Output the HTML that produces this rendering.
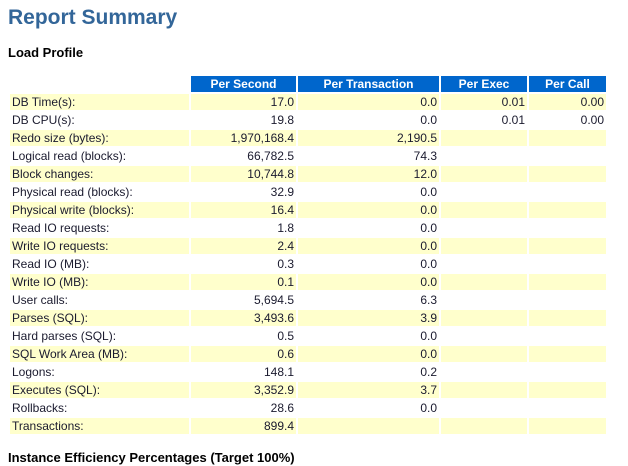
<!DOCTYPE html>
<html><head><meta charset="utf-8"><style>
body{margin:0;width:628px;height:466px;background:#fff;font-family:"Liberation Sans",Arial,sans-serif;position:relative;overflow:hidden}
.t{position:absolute;left:8px;top:6px;font-size:21px;font-weight:bold;color:#336699}
.h{position:absolute;left:8px;font-size:13px;font-weight:bold;color:#000}
table{position:absolute;left:8px;top:74px;width:600px;table-layout:fixed;border-collapse:separate;border-spacing:2px;font-size:12px;color:#1a1a2e}
td,th{height:16px;line-height:16px;padding:0 2px;white-space:nowrap;overflow:hidden}
th{background:#0066cc;color:#fff;font-weight:bold;text-align:center}
td{text-align:right}
td:first-child{text-align:left}
tr.y td{background:#ffffcc}
</style></head><body>
<div class="t">Report Summary</div>
<div class="h" style="top:45px">Load Profile</div>
<table>
<colgroup><col style="width:179px"><col style="width:105px"><col style="width:141px"><col style="width:86px"><col style="width:77px"></colgroup>
<tr><td style="background:none"></td><th>Per Second</th><th>Per Transaction</th><th>Per Exec</th><th>Per Call</th></tr>
<tr class="y"><td>DB Time(s):</td><td>17.0</td><td>0.0</td><td>0.01</td><td>0.00</td></tr>
<tr><td>DB CPU(s):</td><td>19.8</td><td>0.0</td><td>0.01</td><td>0.00</td></tr>
<tr class="y"><td>Redo size (bytes):</td><td>1,970,168.4</td><td>2,190.5</td><td></td><td></td></tr>
<tr><td>Logical read (blocks):</td><td>66,782.5</td><td>74.3</td><td></td><td></td></tr>
<tr class="y"><td>Block changes:</td><td>10,744.8</td><td>12.0</td><td></td><td></td></tr>
<tr><td>Physical read (blocks):</td><td>32.9</td><td>0.0</td><td></td><td></td></tr>
<tr class="y"><td>Physical write (blocks):</td><td>16.4</td><td>0.0</td><td></td><td></td></tr>
<tr><td>Read IO requests:</td><td>1.8</td><td>0.0</td><td></td><td></td></tr>
<tr class="y"><td>Write IO requests:</td><td>2.4</td><td>0.0</td><td></td><td></td></tr>
<tr><td>Read IO (MB):</td><td>0.3</td><td>0.0</td><td></td><td></td></tr>
<tr class="y"><td>Write IO (MB):</td><td>0.1</td><td>0.0</td><td></td><td></td></tr>
<tr><td>User calls:</td><td>5,694.5</td><td>6.3</td><td></td><td></td></tr>
<tr class="y"><td>Parses (SQL):</td><td>3,493.6</td><td>3.9</td><td></td><td></td></tr>
<tr><td>Hard parses (SQL):</td><td>0.5</td><td>0.0</td><td></td><td></td></tr>
<tr class="y"><td>SQL Work Area (MB):</td><td>0.6</td><td>0.0</td><td></td><td></td></tr>
<tr><td>Logons:</td><td>148.1</td><td>0.2</td><td></td><td></td></tr>
<tr class="y"><td>Executes (SQL):</td><td>3,352.9</td><td>3.7</td><td></td><td></td></tr>
<tr><td>Rollbacks:</td><td>28.6</td><td>0.0</td><td></td><td></td></tr>
<tr class="y"><td>Transactions:</td><td>899.4</td><td></td><td></td><td></td></tr>
</table>
<div class="h" style="top:450px">Instance Efficiency Percentages (Target 100%)</div>
</body></html>
